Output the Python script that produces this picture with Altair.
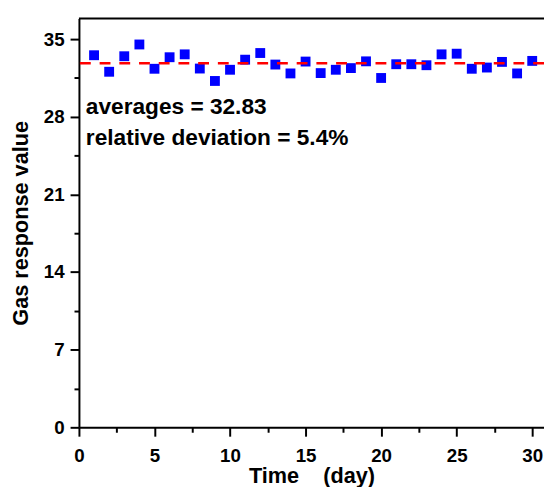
import altair as alt
import pandas as pd

days = list(range(1, 31))
response = [33.55, 32.06, 33.46, 34.52, 32.33, 33.37, 33.63, 32.35, 31.23, 32.24,
            33.15, 33.75, 32.71, 31.91, 32.98, 31.94, 32.24, 32.39, 33.00, 31.50,
            32.74, 32.74, 32.65, 33.63, 33.69, 32.33, 32.44, 32.95, 31.91, 33.04]
average = [32.83]
x_ticks = [0, 2.5, 5, 7.5, 10, 12.5, 15, 17.5, 20, 22.5, 25, 27.5, 30]
y_ticks = [0, 3.5, 7, 10.5, 14, 17.5, 21, 24.5, 28, 31.5, 35]
annotations = ["averages = 32.83", "relative deviation = 5.4%"]
x_max = 30.78
y_max = 36.87

FONT = "Liberation Sans"

pts = pd.DataFrame({"day": days, "value": response})
avg_df = pd.DataFrame({"avg": average})
top_df = pd.DataFrame({"top": [y_max]})
ann_df = pd.DataFrame({"text": ["\n".join(annotations)]})

xscale = alt.Scale(domain=[0, x_max], nice=False, zero=False)
yscale = alt.Scale(domain=[0, y_max], nice=False)

x_axis = alt.Axis(
    values=x_ticks,
    labelExpr="datum.value % 5 === 0 ? datum.label : ''",
    tickSize={"condition": {"test": "datum.value % 5 === 0", "value": 9}, "value": 5},
    title="Time\u00a0\u00a0\u00a0\u00a0(day)",
    grid=False,
    domainColor="black", domainWidth=2,
    tickColor="black", tickWidth=2,
    labelFont=FONT, labelFontSize=19, labelFontWeight="bold", labelColor="black",
    labelPadding=11, labelFlush=False, labelOverlap=False,
    titleFont=FONT, titleFontSize=22, titleFontWeight="bold", titleColor="black",
    titlePadding=0,
)
y_axis = alt.Axis(
    values=y_ticks,
    labelExpr="datum.value % 7 === 0 ? datum.label : ''",
    tickSize={"condition": {"test": "datum.value % 7 === 0", "value": 9}, "value": 5},
    title="Gas response value",
    grid=False,
    domainColor="black", domainWidth=2,
    tickColor="black", tickWidth=2,
    labelFont=FONT, labelFontSize=19, labelFontWeight="bold", labelColor="black",
    labelPadding=6, labelFlush=False, labelOverlap=False,
    titleFont=FONT, titleFontSize=22, titleFontWeight="bold", titleColor="black",
    titlePadding=11,
)

points = alt.Chart(pts).mark_point(
    shape="square", filled=True, size=100, color="#0000FF", opacity=1
).encode(
    x=alt.X("day:Q", scale=xscale, axis=x_axis),
    y=alt.Y("value:Q", scale=yscale, axis=y_axis),
)

avg_line = alt.Chart(avg_df).mark_rule(
    color="#FF0000", strokeWidth=2.5, strokeDash=[11, 9]
).encode(y=alt.Y("avg:Q", scale=yscale))

top_line = alt.Chart(top_df).mark_rule(color="black", strokeWidth=2).encode(
    y=alt.Y("top:Q", scale=yscale)
)

ann = alt.Chart(ann_df).mark_text(
    align="left", baseline="middle", font=FONT, fontSize=23,
    fontWeight="bold", color="black", lineBreak="\n", lineHeight=31
).encode(
    x=alt.value(7),
    y=alt.value(90),
    text="text:N",
)

chart = alt.layer(points, avg_line, top_line, ann).properties(
    width=472, height=415,
    autosize=alt.AutoSizeParams(type="none"),
    padding={"left": 72, "top": 7, "right": 0, "bottom": 57},
).configure_view(stroke=None)

chart.save("out.html", embed_options={"renderer": "svg", "actions": False})
